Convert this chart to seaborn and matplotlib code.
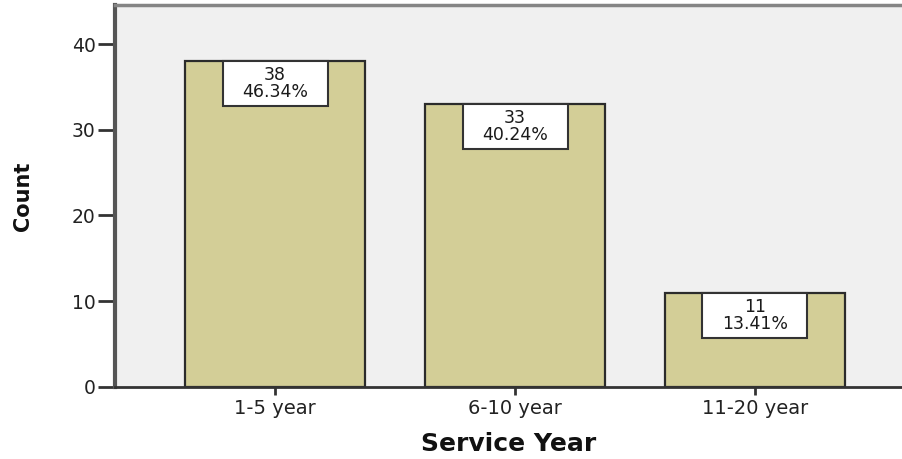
import matplotlib
matplotlib.use("Agg")
import matplotlib.pyplot as plt
from matplotlib.patches import Rectangle
import seaborn as sns
import pandas as pd

categories = ["1-5 year", "6-10 year", "11-20 year"]
counts = [38, 33, 11]
percents = ["46.34%", "40.24%", "13.41%"]
y_ticks = [0, 10, 20, 30, 40]

sns.set_theme(style="white")
plt.rcParams["font.family"] = ["DejaVu Sans"]

df = pd.DataFrame({"Service Year": categories, "Count": counts})

fig = plt.figure(figsize=(9.03, 4.59), dpi=100)
ax = fig.add_axes([0.1274, 0.1569, 0.8726, 0.8322])
ax.set_facecolor("#f0f0f0")

sns.barplot(data=df, x="Service Year", y="Count", order=categories,
            color="#d3ce97", saturation=1, width=0.75,
            edgecolor="#2b2b2b", linewidth=1.6, ax=ax)

ax.set_xlim(-0.667, 2.617)
ax.set_ylim(0, 44.55)
ax.set_yticks(y_ticks)
ax.set_yticklabels([str(t) for t in y_ticks])

# value boxes hanging from the top of each bar
box_w, box_h = 0.4375, 5.25
for i, (c, p) in enumerate(zip(counts, percents)):
    ax.add_patch(Rectangle((i - box_w / 2, c - box_h), box_w, box_h,
                           facecolor="white", edgecolor="#333333",
                           linewidth=1.5, zorder=5))
    ax.text(i, c - box_h / 2, f"{c}\n{p}", ha="center", va="center",
            fontsize=12.5, color="#1a1a1a", linespacing=0.95, zorder=6)

ax.spines["right"].set_visible(False)
ax.spines["left"].set_color("#555555")
ax.spines["left"].set_linewidth(3)
ax.spines["top"].set_color("#858585")
ax.spines["top"].set_linewidth(2.5)
ax.spines["bottom"].set_color("#333333")
ax.spines["bottom"].set_linewidth(2)

ax.tick_params(axis="y", which="both", left=True, length=12, width=2,
               color="#333333", labelsize=13.5, labelcolor="#222222", pad=2)
ax.tick_params(axis="x", which="both", bottom=True, length=6, width=2,
               color="#333333", labelsize=14, labelcolor="#222222", pad=3)

ax.set_xlabel("Service Year", fontsize=18, fontweight="bold",
              color="#111111", labelpad=10)
ax.set_ylabel("Count", fontsize=15, fontweight="bold",
              color="#111111", labelpad=28)

fig.savefig("out.png", dpi=100)
